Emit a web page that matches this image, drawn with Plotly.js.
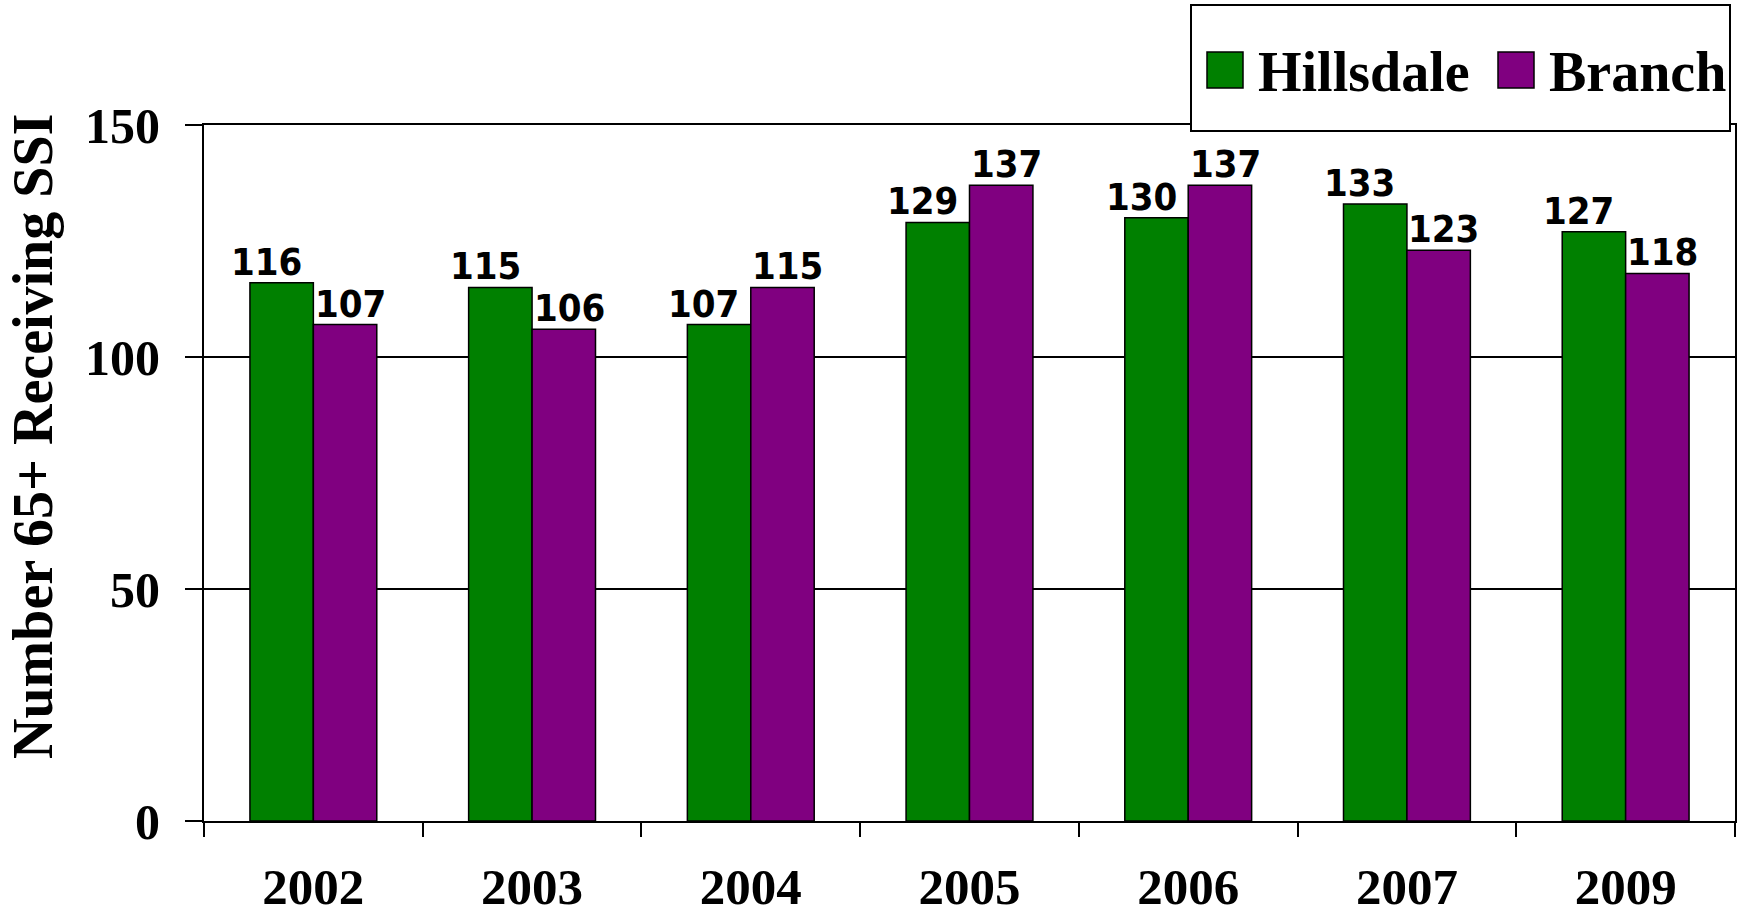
<!DOCTYPE html>
<html>
<head>
<meta charset="utf-8">
<script src="https://cdn.plot.ly/plotly-3.0.1.min.js"></script>
<style>html,body{margin:0;padding:0;background:#fff;}#chart{width:1742px;height:918px;}</style>
</head>
<body>
<div id="chart"></div>
<script>
// ---- data ----
const years = ['2002', '2003', '2004', '2005', '2006', '2007', '2009'];
const seriesNames = ['Hillsdale', 'Branch'];
const hillsdale = [116, 115, 107, 129, 130, 133, 127];
const branch = [107, 106, 115, 137, 137, 123, 118];
const yTickVals = [0, 50, 100, 150];
const yTitle = 'Number 65+ Receiving SSI';

// ---- styles ----
const colors = ['#008000', '#800080'];
const serif = 'Liberation Serif, Times New Roman, serif';
const sans = 'DejaVu Sans Condensed, DejaVu Sans, Verdana, sans-serif';

const series = [hillsdale, branch];
const labelShift = [-47, 37];

const traces = series.map((vals, i) => ({
  type: 'bar',
  name: seriesNames[i],
  x: years,
  y: vals,
  marker: {color: colors[i], line: {color: '#000', width: 1.5}},
  showlegend: false,
  hoverinfo: 'x+y+name'
}));

const annotations = [];
series.forEach((vals, i) => {
  vals.forEach((v, j) => {
    annotations.push({
      x: j, y: v, xref: 'x', yref: 'y',   // category index on the category axis
      text: String(v), showarrow: false,
      xanchor: 'center', yanchor: 'bottom',
      xshift: labelShift[i], yshift: -3,
      font: {family: sans, size: 38, color: '#000', weight: 'bold'}
    });
  });
});

// plot area in pixels: x 204..1735, y 125..821
const L = 204, R = 1735, T = 125, B = 821;
const px = x => (x - L) / (R - L);
const py = y => (B - y) / (B - T);

// y axis title
annotations.push({
  x: px(33), y: py(437), xref: 'paper', yref: 'paper',
  text: yTitle, showarrow: false, textangle: -90,
  xanchor: 'center', yanchor: 'middle',
  font: {family: serif, size: 56, color: '#000', weight: 'bold'}
});

// legend (drawn manually for large symbols)
const shapes = [
  {type: 'rect', xref: 'paper', yref: 'paper', layer: 'above',
   x0: px(1191), x1: px(1730), y0: py(131), y1: py(5),
   fillcolor: '#fff', line: {color: '#000', width: 2}}
];
const legSquareX = [1207, 1498];
const legTextX = [1256, 1547];
series.forEach((_, i) => {
  shapes.push({type: 'rect', xref: 'paper', yref: 'paper', layer: 'above',
    x0: px(legSquareX[i]), x1: px(legSquareX[i] + 36), y0: py(88), y1: py(52),
    fillcolor: colors[i], line: {color: '#000', width: 1.5}});
  annotations.push({
    x: px(legTextX[i]), y: py(72), xref: 'paper', yref: 'paper',
    text: seriesNames[i], showarrow: false, xanchor: 'left', yanchor: 'middle',
    font: {family: serif, size: 56, color: '#000', weight: 'bold'}
  });
});

const layout = {
  width: 1742, height: 918,
  margin: {l: L, r: 1742 - R, t: T, b: 918 - B, pad: 0},
  paper_bgcolor: '#fff', plot_bgcolor: '#fff',
  barmode: 'group', bargap: 0.42, bargroupgap: 0,
  showlegend: false,
  xaxis: {
    type: 'category', range: [-0.5, years.length - 0.5],
    tickson: 'boundaries', ticks: 'outside', ticklen: 14,
    tickwidth: 2, tickcolor: '#000', showline: true, linecolor: '#000', linewidth: 2,
    mirror: true, showgrid: false, tickangle: 0,
    tickfont: {family: serif, size: 51, color: '#000', weight: 'bold'},
    ticklabelstandoff: 20
  },
  yaxis: {
    range: [0, 150], tickvals: yTickVals, ticks: 'outside', ticklen: 17,
    tickwidth: 2, tickcolor: '#000', showline: true, linecolor: '#000', linewidth: 2,
    mirror: true, showgrid: true, gridcolor: '#000', gridwidth: 1.5, zeroline: false,
    tickfont: {family: serif, size: 50, color: '#000', weight: 'bold'},
    ticklabelstandoff: 15
  },
  annotations: annotations,
  shapes: shapes
};

Plotly.newPlot('chart', traces, layout, {displayModeBar: false, staticPlot: true});
</script>
</body>
</html>
